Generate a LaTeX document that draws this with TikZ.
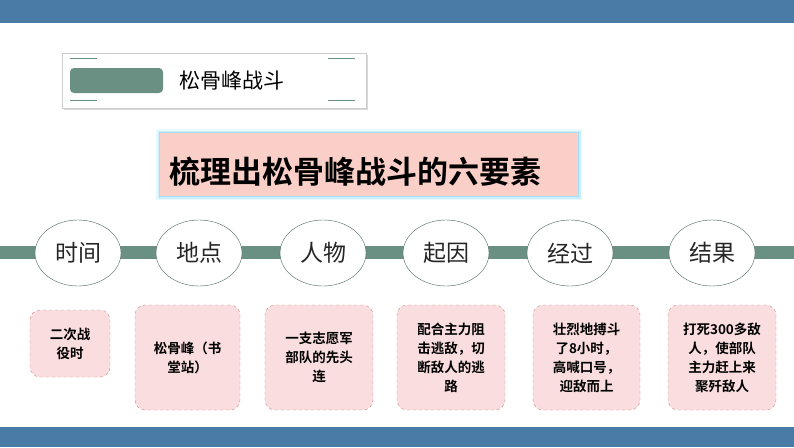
\documentclass[tikz,border=0pt]{standalone}
\usepackage{fontspec}
\newfontfamily\cjk{Noto Sans CJK SC}
\newfontfamily\cjkb{Noto Sans CJK SC Bold}
\usetikzlibrary{shapes.geometric}
\definecolor{topblue}{HTML}{4A7BA7}
\definecolor{grn}{HTML}{6A9083}
\definecolor{pinkt}{HTML}{F9CFC7}
\definecolor{pinkb}{HTML}{FADDDF}
\definecolor{pbord}{HTML}{C98A80}
\tikzset{
 elli/.style={ellipse,draw=grn!70!black,fill=white,minimum width=86pt,minimum height=66pt,font=\cjk\fontsize{23}{23}\selectfont,text=black!85},
 pbox/.style={rounded corners=10pt,draw=pbord,dashed,fill=pinkb,align=center,font=\cjkb\fontsize{13.5}{19}\selectfont},
 brk/.style={grn,line width=1pt}
}
\begin{document}
\begin{tikzpicture}[x=1pt,y=-1pt]
\useasboundingbox (0,0) rectangle (794,447);
\fill[topblue] (0,0) rectangle (794,23);
\fill[topblue] (0,427) rectangle (794,447);
% header box
\fill[black!15] (64,55) rectangle (368,110);
\node[draw=black!20,fill=white,minimum width=304pt,minimum height=55pt,inner sep=0pt] (hdr) at (214,80.5) {};
\node[fill=grn,rounded corners=4pt,minimum width=93pt,minimum height=25pt,inner sep=0pt] (gbar) at (116.5,80.5) {};
\node[font=\cjk\fontsize{21}{21}\selectfont,anchor=west] (htxt) at (176,81) {松骨峰战斗};
\draw[brk] (70,58.5)--(97,58.5); \draw[brk] (70,100.5)--(97,100.5);
\draw[brk] (328,58.5)--(355,58.5); \draw[brk] (328,100.5)--(355,100.5);
% title
\foreach \w/\o in {8/10,5/20,2.5/40}{\draw[cyan!40,line width=\w pt,opacity=\o/100*2] (160,133) rectangle (578,196);}
\node[fill=pinkt,minimum width=418pt,minimum height=63pt,inner sep=0pt] (ttl) at (369,164.5) {};
\node[font=\cjkb\fontsize{31}{31}\selectfont,anchor=west] (ttxt) at (166,172) {梳理出松骨峰战斗的六要素};
% line
\fill[grn] (0,246) rectangle (794,259);
\foreach \n/\x/\t in {e1/78/时间,e2/199/地点,e3/323/人物,e4/446/起因,e5/570/经过,e6/712/结果}
  \node[elli] (\n) at (\x,253) {\t};
\node[pbox,minimum width=80pt,minimum height=67pt] (b1) at (70,343.5) {二次战\\役时};
\node[pbox,minimum width=105pt,minimum height=105pt] (b2) at (187.5,357.5) {松骨峰（书\\堂站）};
\node[pbox,minimum width=108pt,minimum height=105pt] (b3) at (319,357.5) {一支志愿军\\部队的先头\\连};
\node[pbox,minimum width=108pt,minimum height=105pt] (b4) at (451,357.5) {配合主力阻\\击逃敌，切\\断敌人的逃\\路};
\node[pbox,minimum width=107pt,minimum height=105pt] (b5) at (586.5,357.5) {壮烈地搏斗\\了8小时，\\高喊口号，\\迎敌而上};
\node[pbox,minimum width=108pt,minimum height=105pt] (b6) at (722,357.5) {打死300多敌\\人，使部队\\主力赶上来\\聚歼敌人};
\end{tikzpicture}
\end{document}
